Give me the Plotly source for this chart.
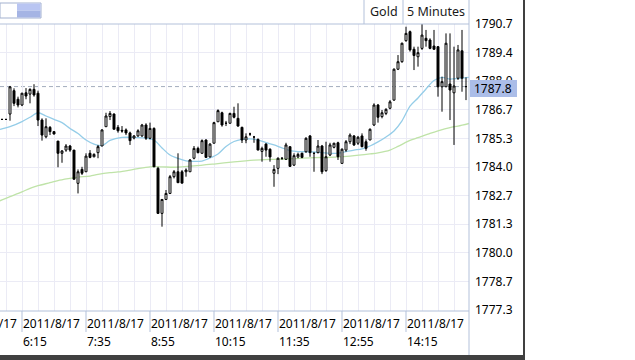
import plotly.graph_objects as go
import pandas as pd

# ---------------- data ----------------
symbol = "Gold"
period = "5 Minutes"
start_time = "2011-08-17 05:50"

opens = [1786.22, 1786.22, 1786.47, 1787.56, 1787.16, 1786.89, 1787.46, 1787.40, 1787.62, 1787.44,
         1786.19, 1785.41, 1785.85, 1785.65, 1785.21, 1784.64, 1784.79, 1784.98, 1784.79, 1783.24,
         1783.89, 1783.78, 1784.64, 1784.48, 1784.67, 1784.98, 1785.88, 1786.35, 1786.47, 1785.85,
         1785.71, 1785.73, 1785.59, 1785.35, 1785.45, 1785.45, 1785.96, 1785.34, 1785.80, 1783.94,
         1781.84, 1782.49, 1782.77, 1783.55, 1783.78, 1783.78, 1783.78, 1783.78, 1784.41, 1784.87,
         1784.64, 1785.26, 1784.47, 1785.11, 1786.11, 1786.53, 1786.04, 1786.04, 1786.50, 1786.27,
         1785.85, 1785.26, 1785.54, 1785.40, 1785.29, 1784.73, 1785.07, 1784.83, 1783.71, 1783.94,
         1784.41, 1784.36, 1784.95, 1784.09, 1784.47, 1784.64, 1784.71, 1785.45, 1784.64, 1784.67,
         1784.98, 1783.83, 1784.56, 1784.92, 1785.13, 1784.17, 1784.79, 1785.18, 1785.45, 1785.11,
         1785.45, 1785.18, 1785.26, 1785.96, 1786.89, 1786.35, 1786.50, 1786.74, 1787.12, 1788.56,
         1788.91, 1789.89, 1790.31, 1789.49, 1789.14, 1789.53, 1790.00, 1789.92, 1789.64, 1789.61,
         1787.74, 1787.74, 1787.87, 1787.46, 1788.14, 1789.42, 1787.75]
highs = [1786.22, 1786.22, 1787.78, 1787.67, 1787.28, 1787.46, 1787.68, 1787.67, 1787.86, 1787.56,
         1786.27, 1786.27, 1785.91, 1785.68, 1785.21, 1784.79, 1785.07, 1785.03, 1784.79, 1783.89,
         1784.01, 1784.64, 1784.79, 1784.64, 1785.03, 1785.76, 1786.53, 1786.61, 1786.50, 1785.96,
         1785.91, 1785.80, 1785.65, 1785.49, 1785.76, 1786.01, 1786.04, 1786.07, 1785.85, 1784.01,
         1782.49, 1782.93, 1783.63, 1783.86, 1784.64, 1783.86, 1783.94, 1784.36, 1784.98, 1784.95,
         1785.29, 1785.29, 1785.11, 1786.11, 1786.69, 1786.58, 1786.15, 1786.53, 1786.81, 1786.97,
         1785.88, 1785.57, 1785.60, 1785.45, 1785.33, 1784.95, 1785.11, 1784.87, 1784.09, 1784.45,
         1784.45, 1785.13, 1784.95, 1784.64, 1784.67, 1784.67, 1785.39, 1785.49, 1784.67, 1785.26,
         1785.03, 1785.18, 1785.13, 1785.13, 1785.18, 1784.87, 1785.26, 1785.57, 1785.49, 1785.45,
         1785.57, 1785.29, 1785.80, 1786.97, 1786.94, 1786.66, 1786.74, 1787.12, 1788.60, 1789.22,
         1789.80, 1790.54, 1790.36, 1789.61, 1789.61, 1790.70, 1790.39, 1790.00, 1790.39, 1789.64,
         1788.21, 1790.23, 1790.23, 1789.61, 1789.69, 1790.39, 1788.18]
lows = [1786.22, 1786.22, 1786.16, 1786.84, 1786.78, 1786.84, 1787.16, 1786.97, 1787.28, 1785.91,
        1785.23, 1785.34, 1785.49, 1785.52, 1783.99, 1784.20, 1784.71, 1784.71, 1783.43, 1782.77,
        1783.63, 1783.78, 1784.41, 1784.45, 1784.41, 1784.98, 1785.88, 1786.19, 1785.76, 1785.60,
        1785.60, 1785.49, 1785.03, 1785.29, 1785.41, 1785.41, 1785.26, 1785.29, 1784.01, 1781.81,
        1781.22, 1782.46, 1782.74, 1783.47, 1783.27, 1783.25, 1783.55, 1783.78, 1784.36, 1784.64,
        1784.64, 1784.45, 1784.45, 1785.11, 1786.11, 1785.88, 1785.91, 1786.04, 1786.27, 1785.88,
        1785.12, 1785.11, 1785.45, 1785.13, 1784.79, 1784.25, 1784.48, 1784.25, 1783.08, 1783.67,
        1784.33, 1784.33, 1784.01, 1784.05, 1784.41, 1784.41, 1784.67, 1784.48, 1783.78, 1784.64,
        1783.67, 1783.78, 1784.51, 1784.87, 1784.33, 1784.17, 1784.71, 1785.07, 1784.98, 1785.03,
        1784.92, 1784.76, 1785.26, 1785.91, 1786.07, 1786.27, 1786.42, 1786.69, 1787.09, 1788.52,
        1788.86, 1789.84, 1789.38, 1788.52, 1788.68, 1789.46, 1789.61, 1789.49, 1789.46, 1787.28,
        1786.58, 1787.73, 1786.19, 1785.03, 1788.06, 1787.51, 1787.12]
closes = [1786.22, 1786.22, 1787.74, 1786.97, 1786.89, 1787.44, 1787.31, 1787.62, 1787.36, 1786.19,
          1785.49, 1785.88, 1785.65, 1785.54, 1784.64, 1784.75, 1784.98, 1784.79, 1783.43, 1783.78,
          1783.71, 1784.51, 1784.45, 1784.59, 1784.95, 1785.73, 1786.38, 1786.50, 1785.76, 1785.69,
          1785.68, 1785.59, 1785.23, 1785.45, 1785.69, 1785.96, 1785.34, 1785.80, 1784.01, 1781.84,
          1782.49, 1782.77, 1783.55, 1783.78, 1783.27, 1783.25, 1783.86, 1784.33, 1784.87, 1784.67,
          1785.23, 1784.45, 1785.07, 1786.07, 1786.63, 1785.96, 1786.04, 1786.50, 1786.32, 1785.91,
          1785.26, 1785.41, 1785.54, 1785.40, 1784.79, 1784.87, 1784.79, 1784.47, 1783.89, 1784.41,
          1784.41, 1785.03, 1784.03, 1784.53, 1784.59, 1784.45, 1785.34, 1784.67, 1784.64, 1784.98,
          1783.78, 1784.48, 1785.03, 1785.11, 1784.48, 1784.83, 1785.18, 1785.49, 1785.03, 1785.39,
          1784.95, 1784.87, 1785.76, 1786.89, 1786.32, 1786.53, 1786.69, 1787.04, 1788.56, 1788.91,
          1789.77, 1790.23, 1789.46, 1789.20, 1789.33, 1790.15, 1789.89, 1789.53, 1789.49, 1787.74,
          1787.98, 1789.77, 1787.59, 1787.78, 1789.46, 1788.14, 1787.75]

# fast moving-average line (blue)
ma_fast_time = ["05:45", "05:50", "06:00", "06:15", "06:25", "06:35", "06:45", "06:55", "07:05", "07:15",
                "07:25", "07:35", "07:45", "07:55", "08:05", "08:20", "08:35", "08:50", "09:00", "09:10",
                "09:20", "09:30", "09:40", "09:50", "10:00", "10:10", "10:20", "10:30", "10:40", "10:50",
                "11:00", "11:10", "11:20", "11:30", "11:40", "11:50", "12:00", "12:10", "12:20", "12:30",
                "12:40", "12:50", "13:00", "13:10", "13:20", "13:30", "13:40", "13:50", "14:00", "14:10",
                "14:20", "14:30", "14:40", "14:50", "15:00", "15:10", "15:20", "15:30", "15:35"]
ma_fast = [1785.73, 1785.78, 1785.88, 1786.12, 1786.32, 1786.53, 1786.38, 1786.22, 1786.07, 1785.80,
           1785.56, 1785.26, 1785.07, 1785.00, 1785.24, 1785.38, 1785.38, 1785.34, 1785.26, 1784.89,
           1784.56, 1784.40, 1784.29, 1784.26, 1784.28, 1784.42, 1784.61, 1784.96, 1785.19, 1785.29,
           1785.31, 1785.26, 1785.14, 1785.03, 1784.89, 1784.77, 1784.72, 1784.71, 1784.70, 1784.67,
           1784.64, 1784.65, 1784.72, 1784.79, 1784.85, 1784.98, 1785.17, 1785.40, 1785.68, 1786.15,
           1786.84, 1787.22, 1787.64, 1788.03, 1788.18, 1788.10, 1788.13, 1788.17, 1788.18]

# slow moving-average line (green)
ma_slow_time = ["05:45", "05:50", "06:00", "06:15", "06:25", "06:35", "06:50", "07:00", "07:15", "07:25",
                "07:40", "07:50", "08:05", "08:15", "08:30", "08:40", "08:55", "09:10", "09:25", "09:50",
                "10:15", "10:40", "11:05", "11:30", "11:55", "12:20", "12:40", "13:05", "13:30", "13:40",
                "13:55", "14:05", "14:20", "14:30", "14:45", "14:55", "15:10", "15:20", "15:35"]
ma_slow = [1782.39, 1782.47, 1782.62, 1782.84, 1783.01, 1783.13, 1783.27, 1783.37, 1783.47, 1783.53,
           1783.58, 1783.66, 1783.74, 1783.77, 1783.86, 1783.93, 1784.01, 1784.01, 1783.99, 1784.05,
           1784.14, 1784.24, 1784.32, 1784.36, 1784.39, 1784.44, 1784.45, 1784.51, 1784.61, 1784.66,
           1784.79, 1784.96, 1785.24, 1785.37, 1785.57, 1785.69, 1785.84, 1785.91, 1786.04]

price_ticks = [1777.333, 1778.667, 1780.0, 1781.333, 1782.667, 1784.0,
               1785.333, 1786.667, 1788.0, 1789.333, 1790.667]
price_tick_text = ["1777.3", "1778.7", "1780.0", "1781.3", "1782.7", "1784.0",
                   "1785.3", "1786.7", "1788.0", "1789.4", "1790.7"]

label_date = "2011/8/17"
label_times = ["06:15", "07:35", "08:55", "10:15", "11:35", "12:55", "14:15"]
label_text = ["6:15", "7:35", "8:55", "10:15", "11:35", "12:55", "14:15"]

# ---------------- figure ----------------
DAY = "2011-08-17 "
times = pd.date_range(start_time, periods=len(opens), freq="5min")

W, H, TOP = 469.0, 287.0, 24.0      # plot box in pixels


def px(x):
    return x / W


def py(y):
    return (TOP + H - y) / H


AXC = "#b3c1da"
GRID = "#ebebf5"
FONT = "Noto Sans"

fig = go.Figure()
fig.add_trace(go.Scatter(x=[DAY + t for t in ma_slow_time], y=ma_slow, mode="lines",
                         line=dict(color="#bfe3a8", width=1.3, shape="spline", smoothing=0.8),
                         hoverinfo="skip", showlegend=False))
fig.add_trace(go.Scatter(x=[DAY + t for t in ma_fast_time], y=ma_fast, mode="lines",
                         line=dict(color="#95cde8", width=1.3, shape="spline", smoothing=0.8),
                         hoverinfo="skip", showlegend=False))
fig.add_trace(go.Candlestick(x=times, open=opens, high=highs, low=lows, close=closes,
                             xaxis="x2", yaxis="y2",
                             increasing=dict(line=dict(color="#000000", width=1), fillcolor="#ffffff"),
                             decreasing=dict(line=dict(color="#000000", width=1), fillcolor="#000000"),
                             whiskerwidth=0, showlegend=False))

x_range = ["2011-08-17 05:47:30", "2011-08-17 15:33:45"]
y_range = [1777.29, 1790.667]

shapes = []
# last price dashed line
shapes.append(dict(type="line", xref="paper", yref="y", x0=0, x1=1, y0=closes[-1], y1=closes[-1],
                   line=dict(color="#a3adbd", width=1, dash="4px,3px"), layer="between"))
# frame lines
shapes.append(dict(type="line", xref="paper", yref="paper", x0=0, x1=1, y0=1, y1=1,
                   line=dict(color=AXC, width=1)))
shapes.append(dict(type="line", xref="paper", yref="paper", x0=0, x1=1, y0=0, y1=0,
                   line=dict(color=AXC, width=1)))
shapes.append(dict(type="line", xref="paper", yref="paper", x0=1, x1=1, y0=py(0), y1=py(355),
                   line=dict(color=AXC, width=1)))
# header box borders
for xb in (364, 403):
    shapes.append(dict(type="line", xref="paper", yref="paper", x0=px(xb), x1=px(xb), y0=1, y1=py(0),
                       line=dict(color=AXC, width=1)))
# date label separators
for t in label_times:
    shapes.append(dict(type="line", xref="x", yref="paper", x0=DAY + t, x1=DAY + t, y0=0, y1=py(332),
                       line=dict(color=AXC, width=1)))
# small top-left widget
shapes.append(dict(type="rect", xref="paper", yref="paper", x0=px(0), x1=px(41), y0=py(18), y1=py(3),
                   line=dict(color="#a3b1cf", width=1), fillcolor="#ffffff"))
shapes.append(dict(type="rect", xref="paper", yref="paper", x0=px(17), x1=px(40.5), y0=py(10.5), y1=py(3.5),
                   line=dict(width=0), fillcolor="#b9c5f2"))
shapes.append(dict(type="rect", xref="paper", yref="paper", x0=px(17), x1=px(40.5), y0=py(17.5), y1=py(10.5),
                   line=dict(width=0), fillcolor="#a5b4e4"))
# last price box
shapes.append(dict(type="rect", xref="paper", yref="paper", x0=px(470), x1=px(517), y0=py(97), y1=py(80),
                   line=dict(width=0), fillcolor="#abbde8", layer="above"))
# dark window borders
shapes.append(dict(type="rect", xref="paper", yref="paper", x0=px(523), x1=px(525), y0=py(360), y1=py(0),
                   line=dict(width=0), fillcolor="#404040"))
shapes.append(dict(type="rect", xref="paper", yref="paper", x0=px(0), x1=px(525), y0=py(360), y1=py(355),
                   line=dict(width=0), fillcolor="#404040"))

ann = []
f12 = dict(family=FONT, size=12, color="#000000")
for t, tt in zip(label_times, label_text):
    ann.append(dict(x=DAY + t, y=py(323), xref="x", yref="paper", text=label_date, showarrow=False,
                    xanchor="left", yanchor="middle", font=f12, xshift=-1))
    ann.append(dict(x=DAY + t, y=py(341), xref="x", yref="paper", text=tt, showarrow=False,
                    xanchor="left", yanchor="middle", font=f12, xshift=-1))
# partially visible label at the left edge
ann.append(dict(x=0, y=py(323), xref="paper", yref="paper", text=label_date, showarrow=False,
                xanchor="right", yanchor="middle", font=f12, xshift=19))
ann.append(dict(x=px(383.5), y=py(11.5), xref="paper", yref="paper", text=symbol, showarrow=False,
                xanchor="center", yanchor="middle", font=dict(family=FONT, size=12.5, color="#1a1a1a")))
ann.append(dict(x=px(436), y=py(11.5), xref="paper", yref="paper", text=period, showarrow=False,
                xanchor="center", yanchor="middle", font=dict(family=FONT, size=12.5, color="#1a1a1a")))
ann.append(dict(x=px(472), y=py(88.5), xref="paper", yref="paper", text=f"{closes[-1]:.1f}",
                showarrow=False, xanchor="left", yanchor="middle", font=f12))

fig.update_layout(
    width=635, height=360,
    margin=dict(l=0, r=166, t=24, b=49, pad=0),
    paper_bgcolor="#ffffff", plot_bgcolor="#ffffff",
    showlegend=False, hovermode=False,
    font=dict(family=FONT, size=12, color="#000000"),
    xaxis=dict(type="date", range=x_range, showgrid=True, gridcolor=GRID, gridwidth=1,
               tick0="2011-08-17 05:55", dtick=20 * 60 * 1000, showticklabels=False, ticks="",
               zeroline=False, showline=False, rangeslider=dict(visible=False), fixedrange=True),
    yaxis=dict(range=y_range, side="right", tickmode="array", tickvals=price_ticks,
               ticktext=price_tick_text, showgrid=True, gridcolor=GRID, gridwidth=1,
               ticks="", ticklabelstandoff=5, zeroline=False, showline=False,
               tickfont=f12, fixedrange=True),
    xaxis2=dict(type="date", overlaying="x", matches="x", range=x_range, visible=False,
                rangeslider=dict(visible=False), showgrid=False),
    yaxis2=dict(overlaying="y", matches="y", range=y_range, visible=False, showgrid=False),
    shapes=shapes,
    annotations=ann,
)

fig.write_html("out.html", config=dict(displayModeBar=False, staticPlot=True),
               post_script="document.body.style.margin='0';document.body.style.overflow='hidden';")
